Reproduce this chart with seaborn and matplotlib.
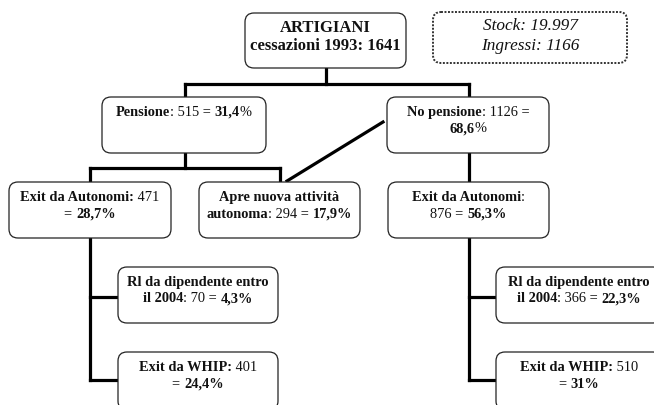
import matplotlib
matplotlib.use("Agg")
import matplotlib.pyplot as plt
import seaborn as sns
from matplotlib.patches import FancyBboxPatch

stock = "19.997"
ingressi = 1166
nodes = ["root", "pens", "nopens", "exit_l", "apre", "exit_r", "rl_l", "whip_l", "rl_r", "whip_r"]
counts = [1641, 515, 1126, 471, 294, 876, 70, 401, 366, 510]
shares = ["100", "31,4", "68,6", "28,7", "17,9", "56,3", "4,3", "24,4", "22,3", "31"]

# text of each box: lines of (text, bold) pieces
B, N = True, False
templates = {
    "root": [[("ARTIGIANI", B)], [("cessazioni 1993: {n}", B)]],
    "pens": [[("Pensione", B), (": {n} = ", N), ("{p}", B), ("%", N)]],
    "nopens": [[("No pensione", B), (": {n} =", N)], [("{p}", B), ("%", N)]],
    "exit_l": [[("Exit da Autonomi:", B), (" {n}", N)], [("= ", N), ("{p}%", B)]],
    "apre": [[("Apre nuova attività", B)], [("autonoma", B), (": {n} = ", N), ("{p}%", B)]],
    "exit_r": [[("Exit da Autonomi", B), (":", N)], [("{n} = ", N), ("{p}%", B)]],
    "rl_l": [[("Rl da dipendente entro", B)], [("il 2004", B), (": {n} = ", N), ("{p}%", B)]],
    "whip_l": [[("Exit da WHIP:", B), (" {n}", N)], [("= ", N), ("{p}%", B)]],
    "rl_r": [[("Rl da dipendente entro", B)], [("il 2004", B), (": {n} = ", N), ("{p}%", B)]],
    "whip_r": [[("Exit da WHIP:", B), (" {n}", N)], [("= ", N), ("{p}%", B)]],
}

# layout (pixels, y down)
boxes = {
    "root": (245, 13, 406, 68),
    "pens": (102, 97, 266, 153),
    "nopens": (387, 97, 549, 153),
    "exit_l": (9, 182, 171, 238),
    "apre": (199, 182, 360, 238),
    "exit_r": (388, 182, 549, 238),
    "rl_l": (118, 267, 278, 323),
    "whip_l": (118, 352, 278, 410),
    "rl_r": (496, 267, 662, 323),
    "whip_r": (496, 352, 662, 410),
}
links = [
    [(326, 68), (326, 84)], [(185, 84), (469, 84)],
    [(185, 84), (185, 97)], [(469, 84), (469, 97)],
    [(185, 153), (185, 168)], [(90, 168), (280, 168)],
    [(90, 168), (90, 182)], [(280, 168), (280, 182)],
    [(383, 122), (287, 181)], [(469, 153), (469, 182)],
    [(90, 238), (90, 380)], [(90, 297), (118, 297)], [(90, 380), (118, 380)],
    [(469, 238), (469, 380)], [(469, 297), (496, 297)], [(469, 380), (496, 380)],
]

sns.set_theme(style="white")
plt.rcParams["font.family"] = ["Liberation Serif", "DejaVu Serif"]

fig = plt.figure(figsize=(6.54, 4.05), dpi=100)
ax = fig.add_axes([0, 0, 1, 1])
ax.set_xlim(0, 654)
ax.set_ylim(405, 0)
ax.axis("off")
renderer = fig.canvas.get_renderer()

for seg in links:
    xs, ys = zip(*seg)
    ax.plot(xs, ys, color="black", lw=2.3, solid_capstyle="projecting", zorder=1)


def rich_line(xc, y, pieces, size):
    items = []
    for s, bold in pieces:
        t = ax.text(0, y, s, fontsize=size, fontweight="bold" if bold else "normal",
                    ha="left", va="baseline", color="#111111", zorder=3)
        items.append((t, t.get_window_extent(renderer=renderer).width))
    x = xc - sum(w for _, w in items) / 2
    for t, w in items:
        t.set_x(x)
        x += w


for name, n, p in zip(nodes, counts, shares):
    x0, y0, x1, y1 = boxes[name]
    ax.add_patch(FancyBboxPatch((x0, y0), x1 - x0, y1 - y0,
                                boxstyle="round,pad=0,rounding_size=9",
                                fc="white", ec="#222222", lw=0.9, zorder=2))
    size = 12 if name == "root" else 10.4
    step = 18 if name == "root" else 16.5
    for i, line in enumerate(templates[name]):
        pieces = [(s.format(n=n, p=p), b) for s, b in line]
        rich_line((x0 + x1) / 2, y0 + 19 + i * step, pieces, size)

# stock box
ax.add_patch(FancyBboxPatch((433, 12), 194, 51, boxstyle="round,pad=0,rounding_size=8",
                            fc="white", ec="#333333", lw=1.4, ls=(0, (1, 0.8)), zorder=2))
ax.text(530, 30, f"Stock: {stock}", fontsize=12.4, style="italic", ha="center", va="baseline", color="#111111")
ax.text(530, 49.5, f"Ingressi: {ingressi}", fontsize=12.4, style="italic", ha="center", va="baseline", color="#111111")

fig.savefig("out.png", dpi=100)
